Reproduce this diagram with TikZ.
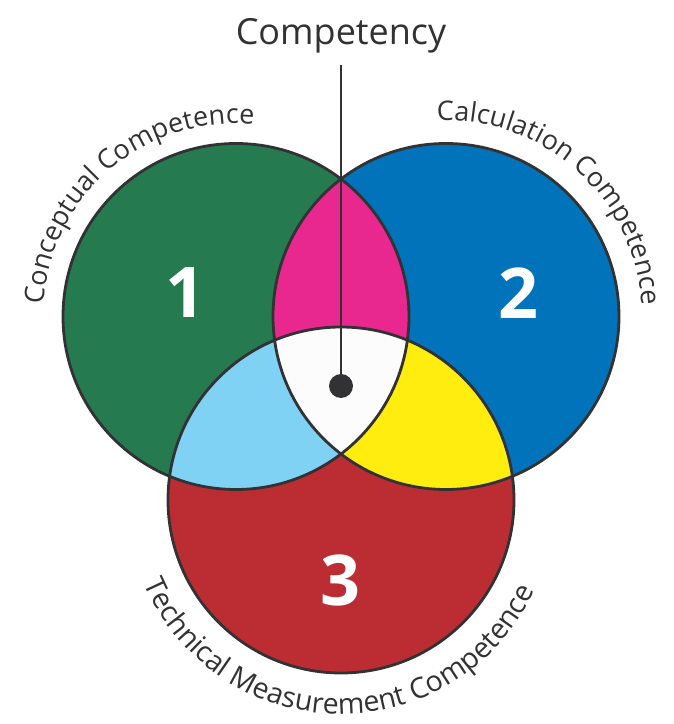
\documentclass[tikz,border=0pt]{standalone}
\usepackage{fontspec}
\setmainfont{Open Sans}
\usetikzlibrary{decorations.text}

\definecolor{cgreen}{RGB}{38,122,80}
\definecolor{cblue}{RGB}{0,115,186}
\definecolor{cred}{RGB}{187,45,50}
\definecolor{cpink}{RGB}{232,40,143}
\definecolor{clightblue}{RGB}{128,210,245}
\definecolor{cyellow}{RGB}{255,237,16}
\definecolor{cwhite}{RGB}{252,252,252}
\definecolor{cline}{RGB}{50,50,52}

\newcommand\arcfont{\fontsize{27}{27}\selectfont}
\newcommand\arcfontlow{\fontsize{28.5}{28.5}\selectfont}

\tikzset{
ring/.style={draw=cline, line width=2.8pt},
bignum/.style={text=white, font=\fontsize{70}{70}\selectfont\bfseries},
arclabel/.style={decorate, decoration={text along path, text align=center, text color=cline}}
}

\begin{document}
\begin{tikzpicture}[x=1pt,y=1pt]
\useasboundingbox (0,0) rectangle (674,724);

\coordinate (green) at (236,407.5);
\coordinate (blue) at (446,407.5);
\coordinate (red) at (341,224);

% the three sets
\fill[cgreen] (green) circle[radius=173];
\fill[cblue] (blue) circle[radius=173];
\begin{scope}
\clip (green) circle[radius=173];
\fill[cpink] (blue) circle[radius=173];
\end{scope}
\fill[cred] (red) circle[radius=173];
\begin{scope}
\clip (red) circle[radius=173];
\fill[clightblue] (green) circle[radius=173];
\fill[cyellow] (blue) circle[radius=173];
\clip (green) circle[radius=173];
\fill[cwhite] (blue) circle[radius=173];
\end{scope}
\foreach \c in {green,blue,red}
\draw[ring] (\c) circle[radius=173];

\node[bignum] (one) at (185,431) {1};
\node[bignum] (two) at (518,431) {2};
\node[bignum] (three) at (340,144) {3};

% labels round the circles
\path[arclabel, decoration={text={|\arcfont|Conceptual Competence}}]
(green) ++(183.5:193) arc[start angle=183.5, end angle=77.5, radius=193];
\path[arclabel, decoration={text={|\arcfont|Calculation Competence}}]
(blue) ++(101:196) arc[start angle=101, end angle=-5, radius=196];
\path[arclabel, decoration={text={|\arcfontlow|Technical Measurement Competence}}]
(red) ++(194:214) arc[start angle=194, end angle=344, radius=214];

% pointer to the centre
\node[text=cline, font=\fontsize{36}{36}\selectfont, anchor=base] (title) at (341,679) {Competency};
\coordinate (top) at (341,659);
\node[circle, fill=cline, minimum size=24pt, inner sep=0pt] (dot) at (341,338) {};
\draw[cline, line width=2.4pt] (top) -- (dot);

\end{tikzpicture}
\end{document}
